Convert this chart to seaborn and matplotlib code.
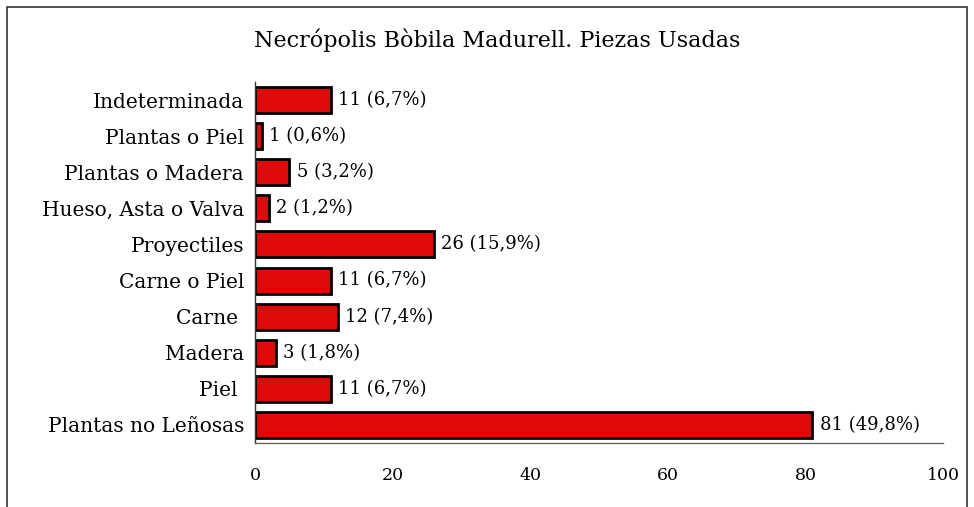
import numpy as np
import pandas as pd
import matplotlib
matplotlib.use('Agg')
import matplotlib.pyplot as plt
import seaborn as sns
from matplotlib.patches import Rectangle

# Datos (de arriba a abajo)
categorias = ['Indeterminada', 'Plantas o Piel', 'Plantas o Madera', 'Hueso, Asta o Valva',
              'Proyectiles', 'Carne o Piel', 'Carne ', 'Madera', 'Piel ', 'Plantas no Leñosas']
piezas = [11, 1, 5, 2, 26, 11, 12, 3, 11, 81]
porcentajes = ['6,7%', '0,6%', '3,2%', '1,2%', '15,9%', '6,7%', '7,4%', '1,8%', '6,7%', '49,8%']
xticks = [0, 20, 40, 60, 80, 100]

df = pd.DataFrame({'Categoria': categorias, 'Piezas': piezas, 'Pct': porcentajes})

sns.set_style('white')
plt.rcParams['font.family'] = ['DejaVu Serif']

fig = plt.figure(figsize=(9.74, 5.07), dpi=100)
ax = fig.add_axes([0.2618, 0.1262, 0.7064, 0.7121])

sns.barplot(data=df, x='Piezas', y='Categoria', orient='h', color='#DE0A0A',
            edgecolor='black', linewidth=2, width=0.72, saturation=1, ax=ax)

for i, (v, p) in enumerate(zip(piezas, porcentajes)):
    ax.text(v + 1.1, i, f'{v} ({p})', va='center', ha='left', fontsize=13, color='black')

ax.set_xlim(0, 100)
ax.set_ylim(len(categorias) - 0.5, -0.5)
ax.set_xticks(xticks)
ax.set_xticklabels([str(t) for t in xticks], fontsize=12.5)
ax.set_xlabel('')
ax.set_ylabel('')
ax.tick_params(axis='y', which='major', length=0, pad=8, labelsize=14.5, labelcolor='black')
ax.set_yticks(np.arange(-0.5, len(categorias), 1), minor=True)
ax.tick_params(axis='y', which='minor', direction='inout', length=7, color='#555555', width=1)
ax.tick_params(axis='x', which='major', direction='out', length=7, color='#555555', width=1,
               pad=10, labelcolor='black')

for s in ['top', 'right']:
    ax.spines[s].set_visible(False)
ax.spines['left'].set_color('#333333')
ax.spines['left'].set_linewidth(1)
ax.spines['bottom'].set_color('#666666')
ax.spines['bottom'].set_linewidth(1)

fig.text(497 / 974, 1 - 40 / 507, 'Necrópolis Bòbila Madurell. Piezas Usadas',
         ha='center', va='center', fontsize=16, color='black')

# Marco del gráfico
fig.patches.append(Rectangle((7 / 974, -0.05), 960 / 974, 1.05 - 7 / 507,
                             transform=fig.transFigure, fill=False,
                             edgecolor='#333333', linewidth=1.2))

fig.savefig('out.png', dpi=100)
